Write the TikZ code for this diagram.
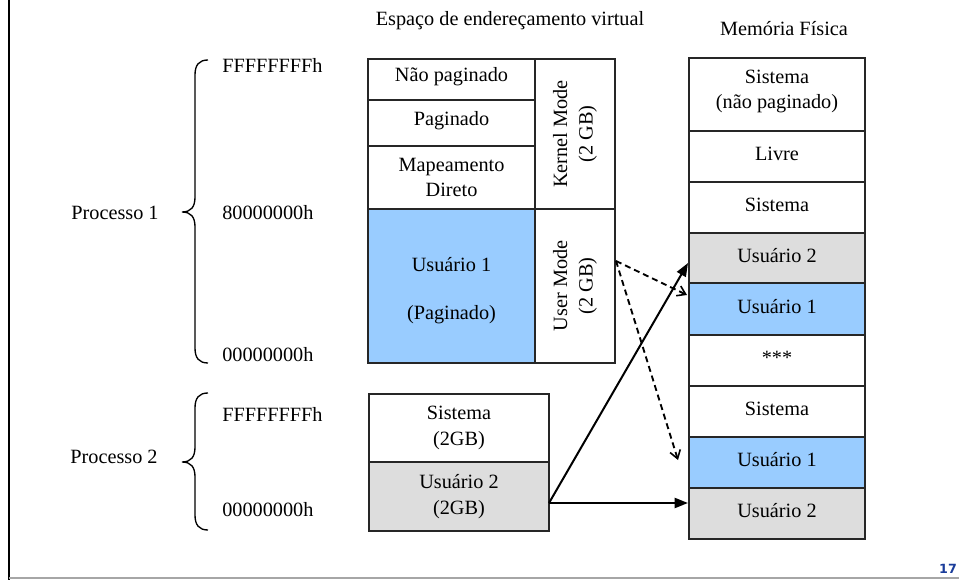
\documentclass[tikz,border=0pt]{standalone}
\usepackage{fontspec}
\setmainfont{Liberation Serif}
\newfontfamily\pagenumfont{DejaVu Sans}
\usetikzlibrary{arrows.meta,fit}
\definecolor{userblue}{HTML}{99CCFF}
\definecolor{usergray}{HTML}{DDDDDD}
\definecolor{pageblue}{HTML}{1A3C9A}
\begin{document}
\begin{tikzpicture}[x=0.75pt,y=-0.75pt,
  every node/.style={font=\fontsize{15.2}{19}\selectfont},
  cell/.style={draw=black!85, line width=1.1pt, inner sep=0pt},
  blue cell/.style={cell, fill=userblue},
  gray cell/.style={cell, fill=usergray},
  txt/.style={align=center, inner sep=0pt},
  rowtxt/.style={txt, yshift=2pt},
  addr/.style={anchor=west, inner sep=0pt},
  curly/.style={line width=1pt},
  solidarrow/.style={line width=1.5pt, -{Triangle[length=10pt,width=7.5pt]}},
  dasharrow/.style={line width=1.4pt, dash pattern=on 4.5pt off 3pt,
    -{Straight Barb[length=6pt,width=8pt,line width=1.2pt]}}]
\useasboundingbox (0,0) rectangle (959,580);

% slide frame
\draw[line width=1.9pt] (9,0) -- (9,580);
\draw[black!35, line width=1.1pt] (9,578) -- (959,578);
\node[font=\pagenumfont\bfseries\fontsize{9.5}{11}\selectfont, text=pageblue] (pnum) at (948,569) {17};

% titles
\node (tvirt) at (510,21) {Espaço de endereçamento virtual};
\node (tphys) at (784,29) {Memória Física};

% virtual address space, process 1
\node[cell, fit={(368,59)(535,100)}] (vnp) {};
\node[cell, fit={(368,100)(535,146)}] (vpg) {};
\node[cell, fit={(368,146)(535,209)}] (vmd) {};
\node[blue cell, fit={(368,209)(535,363)}] (vu1) {};
\node[cell, fit={(535,59)(615,209)}] (vkm) {};
\node[cell, fit={(535,209)(615,363)}] (vum) {};
\node[rowtxt] at (vnp.center) {Não paginado};
\node[rowtxt] at (vpg.center) {Paginado};
\node[txt] at (vmd.center) {Mapeamento\\Direto};
\node[txt, yshift=-3.5pt] at (vu1.center) {Usuário 1\\[17pt](Paginado)};
\node[txt, rotate=90] (tkm) at (vkm.center) {Kernel Mode\\(2 GB)};
\node[txt, rotate=90] (tum) at (vum.center) {User Mode\\(2 GB)};

% virtual address space, process 2
\node[cell, fit={(369,394)(549,462)}] (ps) {};
\node[gray cell, fit={(369,462)(549,531)}] (pu) {};
\node[txt] at (ps.center) {Sistema\\(2GB)};
\node[txt] at (pu.center) {Usuário 2\\(2GB)};

% physical memory
\node[cell, fit={(689,58)(865,131)}] (m1) {};
\node[cell, fit={(689,131)(865,182)}] (m2) {};
\node[cell, fit={(689,182)(865,233)}] (m3) {};
\node[gray cell, fit={(689,233)(865,283)}] (m4) {};
\node[blue cell, fit={(689,283)(865,335)}] (m5) {};
\node[cell, fit={(689,335)(865,386)}] (m6) {};
\node[cell, fit={(689,386)(865,437)}] (m7) {};
\node[blue cell, fit={(689,437)(865,488)}] (m8) {};
\node[gray cell, fit={(689,488)(865,539)}] (m9) {};
\node[txt, yshift=2.5pt] at (m1.center) {Sistema\\(não paginado)};
\node[rowtxt] at (m2.center) {Livre};
\node[rowtxt] at (m3.center) {Sistema};
\node[rowtxt] at (m4.center) {Usuário 2};
\node[rowtxt] at (m5.center) {Usuário 1};
\node[rowtxt] at (m6.center) {***};
\node[rowtxt] at (m7.center) {Sistema};
\node[rowtxt] at (m8.center) {Usuário 1};
\node[rowtxt] at (m9.center) {Usuário 2};

% address labels
\node[addr] (h1a) at (222,65) {FFFFFFFFh};
\node[addr] (h1b) at (222,213) {80000000h};
\node[addr] (h1c) at (222,355) {00000000h};
\node[addr] (h2a) at (222,414) {FFFFFFFFh};
\node[addr] (h2b) at (222,510) {00000000h};

% process labels and braces
\node (p1) at (115,213) {Processo 1};
\node (p2) at (114,457) {Processo 2};
\draw[curly] (208,60) .. controls (199,60) and (195,65) .. (195,75) -- (195,197)
  .. controls (195,207) and (191,212) .. (182,212)
  .. controls (191,212) and (195,217) .. (195,227) -- (195,348)
  .. controls (195,358) and (199,363) .. (208,363);
\draw[curly] (208,393) .. controls (199,393) and (195,398) .. (195,408) -- (195,447)
  .. controls (195,457) and (191,462) .. (182,462)
  .. controls (191,462) and (195,467) .. (195,477) -- (195,515)
  .. controls (195,525) and (199,530) .. (208,530);

% mapping arrows
\coordinate (d0) at (616,261);
\coordinate (d1) at (687,295);
\coordinate (d2) at (678,460);
\coordinate (s0) at (549,503);
\coordinate (s1) at (688,263);
\coordinate (s2) at (688,503);
\draw[dasharrow] (d0) -- (d1);
\draw[dasharrow] (d0) -- (d2);
\draw[solidarrow] (s0) -- (s1);
\draw[solidarrow] (s0) -- (s2);
\end{tikzpicture}
\end{document}
